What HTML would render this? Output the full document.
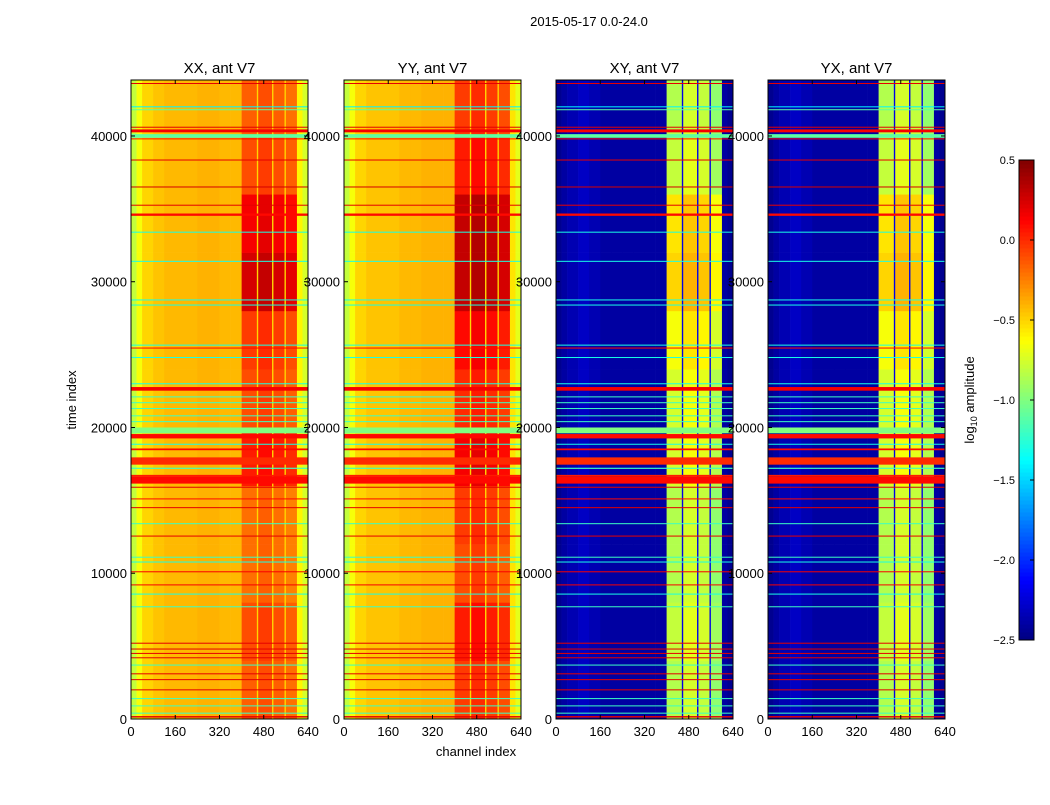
<!DOCTYPE html>
<html><head><meta charset="utf-8">
<style>
html,body{margin:0;padding:0;background:#fff;}
body{width:1050px;height:800px;overflow:hidden;font-family:"Liberation Sans",sans-serif;}
svg text{font-family:"Liberation Sans",sans-serif;fill:#000;}
</style></head>
<body>
<svg id="fig" width="1050" height="800" xmlns="http://www.w3.org/2000/svg">
<text x="589" y="26" font-size="13" text-anchor="middle">2015-05-17 0.0-24.0</text>
<text x="0" y="0" font-size="13" text-anchor="middle" transform="translate(76,400) rotate(-90)">time index</text>
<text x="476" y="756" font-size="13" text-anchor="middle">channel index</text>
<text x="0" y="0" font-size="13" text-anchor="middle" transform="translate(974,400) rotate(-90)">log<tspan font-size="9" dy="3">10</tspan><tspan dy="-3"> amplitude</tspan></text>
<g id="panels"></g>
<g id="cbar"></g>
</svg>
<script>
// ---- data ----
const panelTitles = ["XX, ant V7","YY, ant V7","XY, ant V7","YX, ant V7"];
const xTicks = [0,160,320,480,640];
const yTicks = [0,10000,20000,30000,40000];
const cbarTicks = [0.5,0.0,-0.5,-1.0,-1.5,-2.0,-2.5];
const chanEdges = [0,20,40,80,120,160,200,240,280,320,360,400,455,460,510,515,555,560,600,620,640];
const xxBase = [-0.8,-0.65,-0.5,-0.45,-0.42,-0.42,-0.42,-0.4,-0.4,-0.42,-0.42,-0.1,-0.5,-0.05,-0.5,-0.1,-0.5,-0.15,-0.6,-0.75];
const yyBase = [-0.8,-0.65,-0.5,-0.45,-0.45,-0.45,-0.42,-0.42,-0.4,-0.4,-0.4,-0.05,-0.5,0.0,-0.5,-0.05,-0.5,-0.1,-0.55,-0.7];
const xyBase = [-2.45,-2.4,-2.35,-2.3,-2.35,-2.4,-2.4,-2.4,-2.4,-2.4,-2.4,-0.85,-2.2,-0.75,-2.2,-0.8,-2.2,-0.95,-2.4,-2.45];
const yxBase = [-2.45,-2.4,-2.35,-2.3,-2.35,-2.4,-2.4,-2.4,-2.4,-2.4,-2.4,-0.85,-2.2,-0.75,-2.2,-0.8,-2.2,-0.95,-2.4,-2.45];
const timeEdges = [0,4000,8000,12000,16000,20000,24000,28000,32000,36000,40000,43840];
const xxHot = [-0.05,0.0,-0.1,-0.1,0.15,0.0,0.05,0.35,0.25,0.0,-0.05];
const yyHot = [0.0,0.1,-0.05,0.0,0.2,0.05,0.15,0.35,0.35,0.1,0.0];
const xyHot = [0.0,0.05,0.0,0.0,0.1,0.1,0.2,0.35,0.3,0.05,0.0];
const yxHot = [0.0,0.05,0.0,0.0,0.1,0.1,0.2,0.35,0.3,0.05,0.0];
const flagTimes = [43600,42000,41800,40600,40350,40000,39800,38350,36500,35250,34600,33400,31400,28750,28400,25650,25450,24800,23000,22650,22100,21700,21300,20800,20400,19800,19400,18850,18500,17700,17200,16700,16400,15900,15100,14500,13400,12550,11100,10770,10100,9200,8570,7700,5200,4800,4500,4200,3700,3100,2700,2000,1400,900,400,150];
const flagVals  = [0.2,-1.4,-1.1,0.2,0.15,-1.1,0.1,0.2,0.25,0.2,0.1,-1.3,-1.3,-1.3,-1.3,-1.3,0.1,-1.3,-1.3,0.15,-1.2,-1.2,-1.2,-1.2,-1.2,-1.0,0.1,-1.3,0.1,0.0,-1.2,0.05,0.1,0.2,0.1,0.2,-1.2,0.2,-1.2,-1.3,0.15,0.15,-1.3,-1.2,0.2,0.2,0.2,0.2,-1.2,0.2,0.2,0.2,-1.2,-1.2,-1.2,0.2];
const flagWidths= [60,60,60,60,200,250,60,60,60,60,160,60,60,60,60,60,60,60,60,250,60,60,60,60,60,400,300,60,120,500,80,100,500,60,60,60,60,60,60,60,60,60,60,60,60,60,60,60,60,60,60,60,60,60,60,100];
const panelBase = [xxBase,yyBase,xyBase,yxBase];
const panelHot = [xxHot,yyHot,xyHot,yxHot];
// ---- layout ----
const NS="http://www.w3.org/2000/svg";
const panelX=[131,344,556,768], PW=177, PT=80, PB=719, TMAX=43840, CMAX=640;
const vmin=-2.5, vmax=0.5;
function jet(v){let t=Math.max(0,Math.min(1,(v-vmin)/(vmax-vmin)));
 const c=x=>Math.round(255*Math.max(0,Math.min(1,x)));
 return `rgb(${c(1.5-Math.abs(4*t-3))},${c(1.5-Math.abs(4*t-2))},${c(1.5-Math.abs(4*t-1))})`;}
function el(tag,attrs,parent){const e=document.createElementNS(NS,tag);for(const k in attrs)e.setAttribute(k,attrs[k]);parent.appendChild(e);return e;}
const panels=document.getElementById('panels');
for(let p=0;p<4;p++){
 const x0=panelX[p];
 const xs=c=>x0+c/CMAX*PW;
 const ys=t=>PB-t/TMAX*(PB-PT);
 const g=el('g',{},panels);
 
 
 const base=panelBase[p], hot=panelHot[p];
 for(let i=0;i<base.length;i++){
  const c0=chanEdges[i],c1=chanEdges[i+1];
  const isHot=(c0>=400&&c1<=600&&(c1-c0)>10);
  for(let j=0;j<timeEdges.length-1;j++){
   const v=base[i]+(isHot?hot[j]:0);
   const r=el('rect',{x:xs(c0),y:ys(timeEdges[j+1]),width:xs(c1)-xs(c0)+0.3,height:ys(timeEdges[j])-ys(timeEdges[j+1])+0.3,fill:jet(v)},g);
   
   
  }
 }
 for(let k=0;k<flagTimes.length;k++){
  const h=Math.max(1,flagWidths[k]/TMAX*(PB-PT));
  const r=el('rect',{x:x0,y:ys(flagTimes[k])-h/2,width:PW,height:h,fill:jet(flagVals[k])},g);
  
  
 }
 const fr=el('rect',{x:x0,y:PT,width:PW,height:PB-PT,fill:'none',stroke:'#000','stroke-width':1},g);
 
 
 const tt=el('text',{x:x0+PW/2,y:PT-7,'font-size':15,'text-anchor':'middle'},g);
 tt.textContent=panelTitles[p];
 
 
 for(const c of xTicks){
  el('line',{x1:xs(c),x2:xs(c),y1:PB,y2:PB-4,stroke:'#000'},g);
  el('line',{x1:xs(c),x2:xs(c),y1:PT,y2:PT+4,stroke:'#000'},g);
  const t=el('text',{x:xs(c),y:PB+17,'font-size':13,'text-anchor':'middle'},g);
  t.textContent=c;
  
  
 }
 for(const v of yTicks){
  el('line',{x1:x0,x2:x0+4,y1:ys(v),y2:ys(v),stroke:'#000'},g);
  el('line',{x1:x0+PW,x2:x0+PW-4,y1:ys(v),y2:ys(v),stroke:'#000'},g);
  const t=el('text',{x:x0-4,y:ys(v)+5,'font-size':13,'text-anchor':'end'},g);
  t.textContent=v;
  
  
 }
}
// colorbar
const cb=document.getElementById('cbar');
const CX=1019,CW=15,CT=160,CB=640;
const cys=v=>CB-(v-vmin)/(vmax-vmin)*(CB-CT);
for(let i=0;i<120;i++){
 const v0=vmin+i*(vmax-vmin)/120, v1=vmin+(i+1)*(vmax-vmin)/120;
 const r=el('rect',{x:CX,y:cys(v1),width:CW,height:cys(v0)-cys(v1)+0.5,fill:jet((v0+v1)/2)},cb);
 
 
}
const cf=el('rect',{x:CX,y:CT,width:CW,height:CB-CT,fill:'none',stroke:'#000'},cb);


for(const v of cbarTicks){
 el('line',{x1:CX+CW,x2:CX+CW-4,y1:cys(v),y2:cys(v),stroke:'#000'},cb);
 const t=el('text',{x:CX-4,y:cys(v)+4,'font-size':11,'text-anchor':'end'},cb);
 t.textContent=(v<0?'\u2212':'')+Math.abs(v).toFixed(1);
 
 
}
</script>
</body></html>
